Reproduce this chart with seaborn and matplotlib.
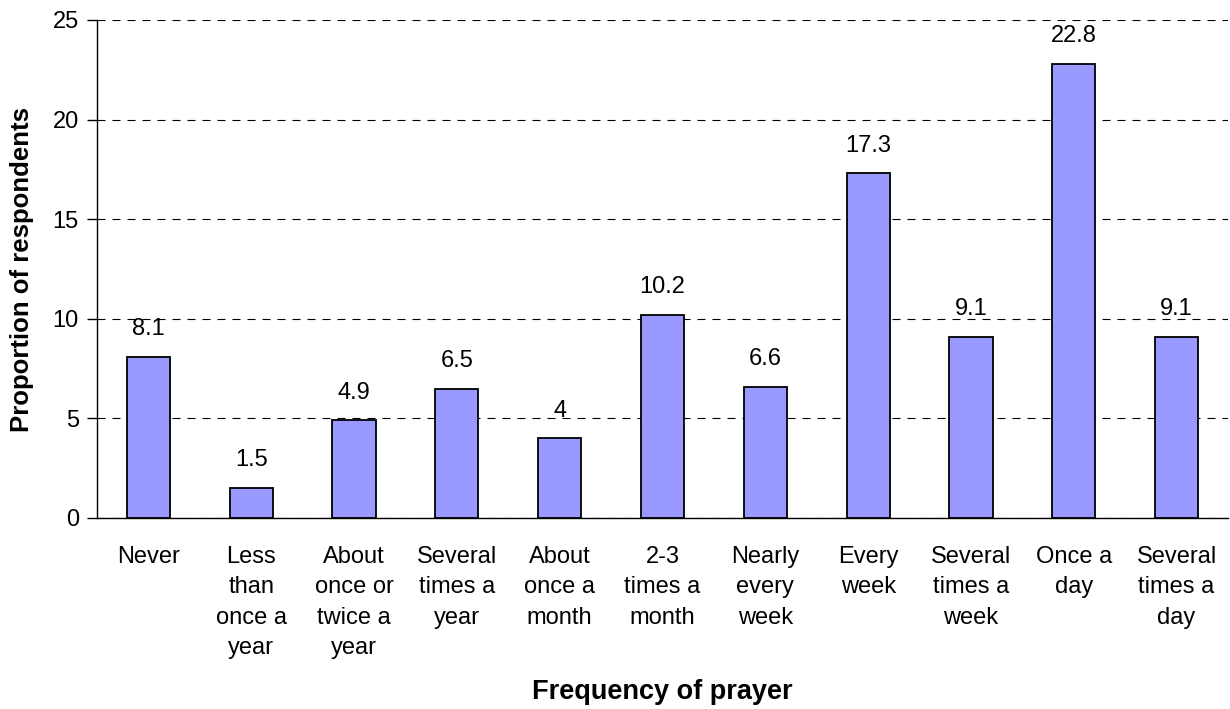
import matplotlib
matplotlib.use("Agg")
import matplotlib.pyplot as plt
import seaborn as sns
import pandas as pd
import numpy as np

categories = ["Never", "Less\nthan\nonce a\nyear", "About\nonce or\ntwice a\nyear",
              "Several\ntimes a\nyear", "About\nonce a\nmonth", "2-3\ntimes a\nmonth",
              "Nearly\nevery\nweek", "Every\nweek", "Several\ntimes a\nweek",
              "Once a\nday", "Several\ntimes a\nday"]
values = [8.1, 1.5, 4.9, 6.5, 4, 10.2, 6.6, 17.3, 9.1, 22.8, 9.1]
value_labels = ["8.1", "1.5", "4.9", "6.5", "4", "10.2", "6.6", "17.3", "9.1", "22.8", "9.1"]
y_ticks = [0, 5, 10, 15, 20, 25]

sns.set_style("white")
plt.rcParams['font.family'] = ['Liberation Sans', 'DejaVu Sans']
plt.rcParams['text.color'] = 'black'
plt.rcParams['axes.labelcolor'] = 'black'
plt.rcParams['xtick.color'] = 'black'
plt.rcParams['ytick.color'] = 'black'

df = pd.DataFrame({"cat": categories, "val": values})
fig = plt.figure(figsize=(12.3, 7.09), dpi=100)
ax = fig.add_axes([97/1230, 1-518/709, (1228-97)/1230, (518-20)/709])

sns.barplot(data=df, x="cat", y="val", ax=ax, color="#9999FF", saturation=1,
            width=0.42, edgecolor="black", linewidth=1.3, zorder=3)

ax.set_ylim(0, 25)
ax.set_xlim(-0.5, len(categories) - 0.5)
ax.set_yticks(y_ticks)
ax.set_yticklabels([str(t) for t in y_ticks], fontsize=17)
ax.yaxis.grid(True, linestyle=(0, (7.2, 6.3)), color="black", linewidth=0.8)
ax.set_axisbelow(True)

ax.set_xticks(range(len(categories)))
ax.set_xticklabels(categories, fontsize=17, linespacing=1.5, va="top")
ax.tick_params(axis="x", which="major", length=0, pad=20)
ax.set_xticks(np.arange(-0.5, len(categories), 1.0), minor=True)
ax.tick_params(axis="x", which="minor", length=7, width=1, color="black", direction="out")
ax.tick_params(axis="y", length=7, width=1, color="black", direction="out", pad=6, left=True)

for s in ["top", "right"]:
    ax.spines[s].set_visible(False)
for s in ["left", "bottom"]:
    ax.spines[s].set_color("black")
    ax.spines[s].set_linewidth(1)

for i, (v, lab) in enumerate(zip(values, value_labels)):
    ax.annotate(lab, (i, v), xytext=(0, 20), textcoords="offset points",
                ha="center", va="center", fontsize=17)

ax.set_xlabel("Frequency of prayer", fontsize=19.5, fontweight="bold", labelpad=0)
ax.xaxis.set_label_coords(0.5, -161/498)
ax.set_ylabel("Proportion of respondents", fontsize=18.5, fontweight="bold")
ax.yaxis.set_label_coords(-63/1131, 0.5)

fig.savefig("out.png", dpi=100)
